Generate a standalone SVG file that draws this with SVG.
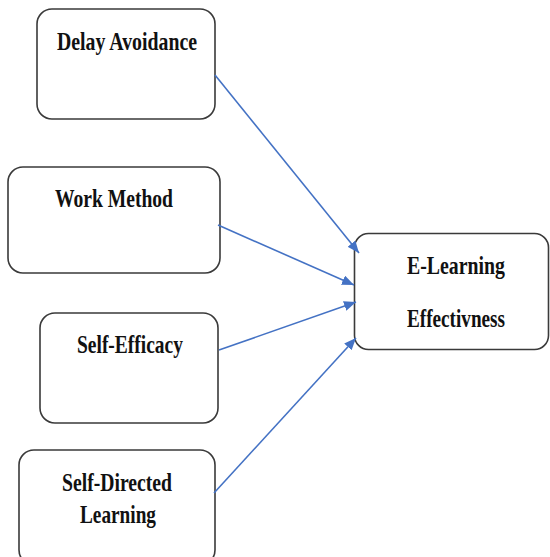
<svg xmlns="http://www.w3.org/2000/svg" width="550" height="557" viewBox="0 0 550 557">
  <defs>
    <marker id="arrow" viewBox="0 0 12 10" refX="12" refY="5" markerWidth="12" markerHeight="10" markerUnits="userSpaceOnUse" orient="auto">
      <path d="M0,0 L12,5 L0,10 z" fill="#4472C4"/>
    </marker>
    <style>
      .box { fill: #ffffff; stroke: #3a3a3a; stroke-width: 1.6; }
      .label { font-family: "Liberation Serif", "Times New Roman", serif; font-weight: bold; font-size: 26px; fill: #111111; }
      .link { fill: none; stroke: #4472C4; stroke-width: 1.6; marker-end: url(#arrow); }
    </style>
  </defs>
  <rect width="550" height="557" fill="#ffffff"/>

  <g id="delay-avoidance">
    <rect class="box" x="37" y="9" width="178" height="110" rx="15"/>
    <text class="label" x="57" y="50" textLength="140" lengthAdjust="spacingAndGlyphs">Delay Avoidance</text>
  </g>

  <g id="work-method">
    <rect class="box" x="8" y="167" width="212" height="106" rx="15"/>
    <text class="label" x="55" y="207" textLength="118" lengthAdjust="spacingAndGlyphs">Work Method</text>
  </g>

  <g id="self-efficacy">
    <rect class="box" x="40" y="313" width="178" height="110" rx="15"/>
    <text class="label" x="77" y="353" textLength="106" lengthAdjust="spacingAndGlyphs">Self-Efficacy</text>
  </g>

  <g id="self-directed-learning">
    <rect class="box" x="19" y="450" width="196" height="115" rx="15"/>
    <text class="label" x="62" y="491" textLength="110" lengthAdjust="spacingAndGlyphs">Self-Directed</text>
    <text class="label" x="80" y="523" textLength="76" lengthAdjust="spacingAndGlyphs">Learning</text>
  </g>

  <g id="e-learning-effectiveness">
    <rect class="box" x="354.5" y="233.5" width="194" height="116" rx="14"/>
    <text class="label" x="407" y="274" textLength="98" lengthAdjust="spacingAndGlyphs">E-Learning</text>
    <text class="label" x="407" y="327" textLength="98" lengthAdjust="spacingAndGlyphs">Effectivness</text>
  </g>

  <g id="connectors">
    <line class="link" x1="215" y1="75" x2="359" y2="253"/>
    <line class="link" x1="218" y1="225" x2="354" y2="285"/>
    <line class="link" x1="219" y1="350" x2="356" y2="302"/>
    <line class="link" x1="214" y1="493" x2="356" y2="338"/>
  </g>
</svg>
